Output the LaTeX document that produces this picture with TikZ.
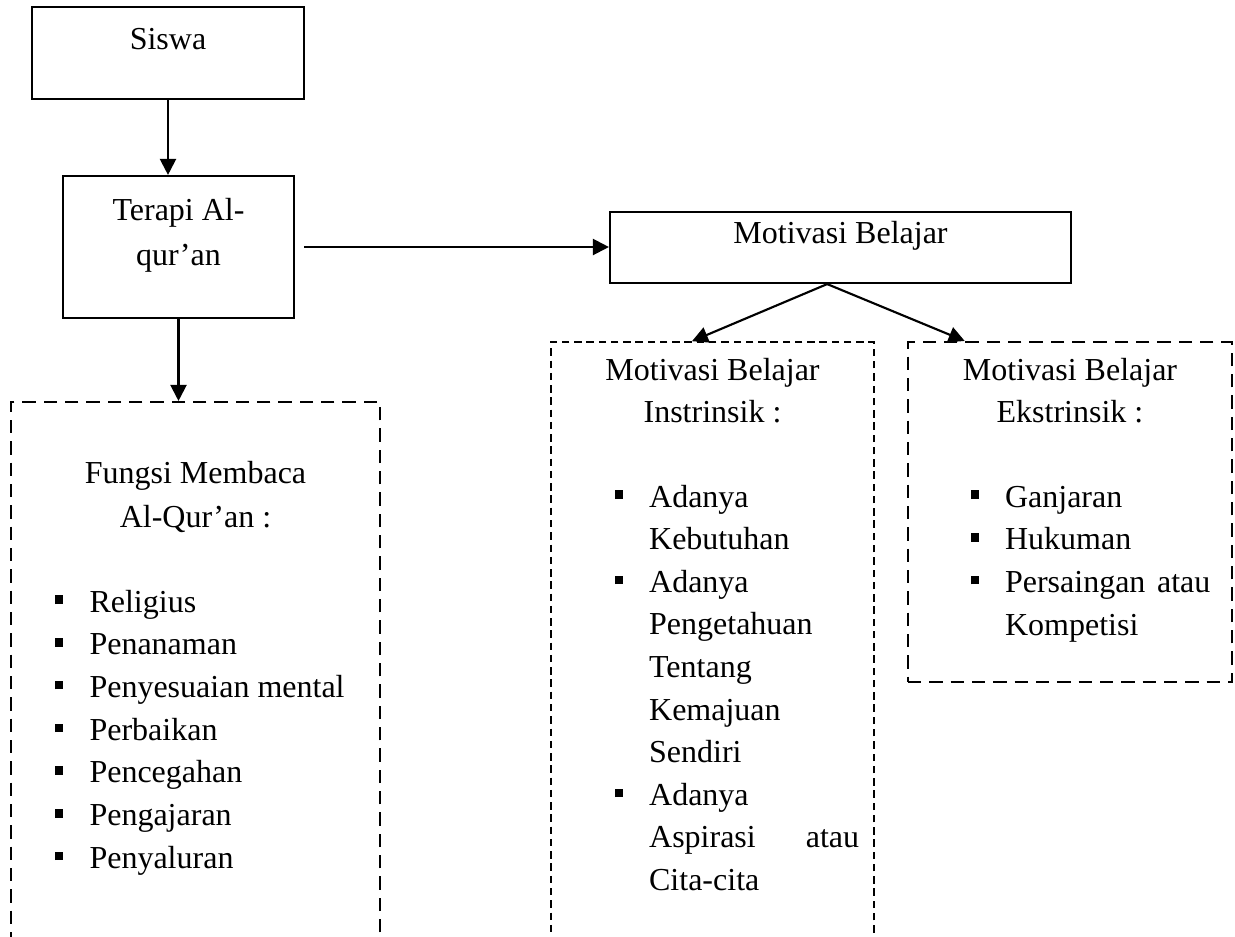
\documentclass[tikz,border=0pt]{standalone}
\usepackage{fontspec}
\setmainfont{Liberation Serif}
\usetikzlibrary{arrows.meta,fit}

\tikzset{
  box/.style={draw, line width=0.8pt, inner sep=0pt},
  dashbox/.style={draw, line width=0.8pt, inner sep=0pt, dash pattern=on 5pt off 3pt},
  finebox/.style={draw, line width=0.6pt, inner sep=0pt, dash pattern=on 2.8pt off 1.8pt},
  arr/.style={line width=0.8pt, -{Triangle[length=6pt,width=6pt]}},
  txt/.style={anchor=base, inner sep=0pt, font=\fontsize{12pt}{16pt}\selectfont},
  itm/.style={anchor=base west, inner sep=0pt, font=\fontsize{12pt}{16pt}\selectfont},
  bul/.style={anchor=base west, inner sep=0pt},
}
\newcommand{\sqbul}{\rule[3pt]{3.2pt}{3.2pt}}

\begin{document}
\begin{tikzpicture}[x=0.375pt,y=-0.375pt]
\useasboundingbox (0,0) rectangle (1235,936);
\clip (0,0) rectangle (1235,936);

% kotak
\node[box, fit={(32,7) (304,99)}] (siswa) {};
\node[box, fit={(63,176) (294,318)}] (terapi) {};
\node[box, fit={(610,212) (1071,283)}] (motivasi) {};
\node[dashbox, fit={(11,402) (380,990)}] (fungsi) {};
\node[finebox, fit={(551,342) (874,990)}] (intrinsik) {};
\node[dashbox, fit={(908,342) (1232,682)}] (ekstrinsik) {};

\node[txt] (siswaT) at (168,49) {Siswa};
\node[txt] (terapiT1) at (178.5,220) {Terapi Al-};
\node[txt] (terapiT2) at (178.5,265) {qur’an};
\node[txt] (motivasiT) at (840.5,243) {Motivasi Belajar};

% panah
\draw[arr] (siswa.south) -- (siswa.south |- terapi.north);
\draw[arr, shorten <=3.5pt] (terapi.east) -- (terapi.east -| motivasi.west);
\draw[arr] (terapi.south) -- (terapi.south |- fungsi.north);
\draw[arr] ([xshift=-5pt]motivasi.south) -- ([xshift=-7.7pt]intrinsik.north);
\draw[arr] ([xshift=-5pt]motivasi.south) -- ([xshift=-39.5pt]ekstrinsik.north);

% fungsi membaca
\node[txt] (fungsiT1) at (195.5,483) {Fungsi Membaca};
\node[txt] (fungsiT2) at (195.5,527) {Al-Qur’an :};
\foreach \t [count=\i from 0] in {Religius, Penanaman, Penyesuaian mental,
    Perbaikan, Pencegahan, Pengajaran, Penyaluran}{
  \node[bul] (fb\i) at (54,{612+42.7*\i}) {\sqbul};
  \node[itm] (ft\i) at (89,{612+42.7*\i}) {\t};
}

% instrinsik
\node[txt] (inT1) at (712.5,380) {Motivasi Belajar};
\node[txt] (inT2) at (712.5,422) {Instrinsik :};
\foreach \t [count=\i from 0] in {Adanya, Kebutuhan, Adanya, Pengetahuan, Tentang,
    Kemajuan, Sendiri, Adanya, {\hbox to 78.75pt{Aspirasi\hfill atau}}, Cita-cita}
  \node[itm] (it\i) at (648.6,{507+42.6*\i}) {\t};
\foreach \i in {0,2,7}
  \node[bul] (ib\i) at (614,{507+42.6*\i}) {\sqbul};

% ekstrinsik
\node[txt] (exT1) at (1070,380) {Motivasi Belajar};
\node[txt] (exT2) at (1070,422) {Ekstrinsik :};
\foreach \t [count=\i from 0] in {Ganjaran, Hukuman,
    {\hbox to 77pt{Persaingan\hfill atau}}, Kompetisi}
  \node[itm] (et\i) at (1004.5,{507+42.7*\i}) {\t};
\foreach \i in {0,1,2}
  \node[bul] (eb\i) at (970,{507+42.7*\i}) {\sqbul};
\end{tikzpicture}
\end{document}
